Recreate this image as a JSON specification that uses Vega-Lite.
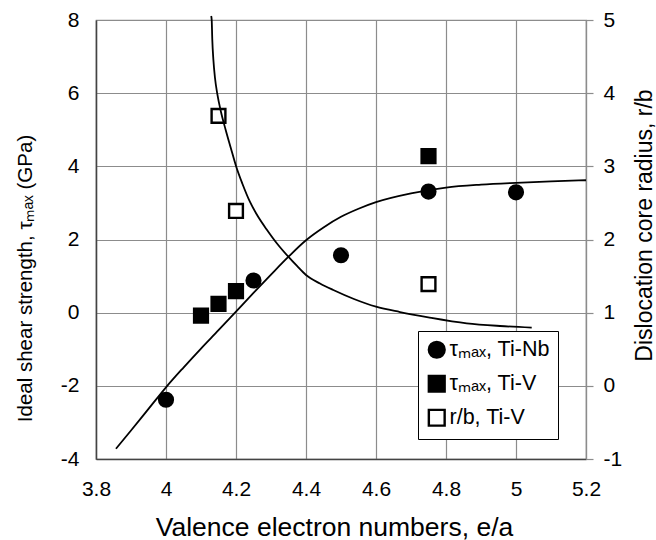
{
  "$schema": "https://vega.github.io/schema/vega-lite/v6.json",
  "width": 490,
  "height": 439,
  "autosize": {"type": "none"},
  "padding": {"left": 96, "top": 20, "right": 70, "bottom": 81},
  "background": "white",
  "config": {
    "font": "Liberation Sans",
    "view": {"stroke": "#8c8c8c", "strokeWidth": 1.2},
    "axis": {
      "labelFont": "Liberation Sans",
      "labelFontSize": 21,
      "labelColor": "black",
      "titleFont": "Liberation Sans",
      "titleFontWeight": "normal",
      "titleColor": "black",
      "gridColor": "#8c8c8c",
      "gridWidth": 1.2,
      "gridOpacity": 1,
      "labelOverlap": false,
      "labelFlush": false
    }
  },
  "datasets": {
    "tauFit": [
      {"ea": 3.857, "tau": -3.72},
      {"ea": 3.9, "tau": -3.22},
      {"ea": 3.95, "tau": -2.63},
      {"ea": 4.0, "tau": -2.04},
      {"ea": 4.05, "tau": -1.5},
      {"ea": 4.1, "tau": -0.98},
      {"ea": 4.15, "tau": -0.48},
      {"ea": 4.2, "tau": 0.03},
      {"ea": 4.25, "tau": 0.54},
      {"ea": 4.3, "tau": 1.04},
      {"ea": 4.35, "tau": 1.53},
      {"ea": 4.4, "tau": 1.98},
      {"ea": 4.45, "tau": 2.33},
      {"ea": 4.5, "tau": 2.62},
      {"ea": 4.55, "tau": 2.84},
      {"ea": 4.6, "tau": 3.02},
      {"ea": 4.7, "tau": 3.26},
      {"ea": 4.8, "tau": 3.42},
      {"ea": 4.9, "tau": 3.5},
      {"ea": 5.0, "tau": 3.55},
      {"ea": 5.1, "tau": 3.59},
      {"ea": 5.2, "tau": 3.62}
    ],
    "tauPts": [
      {"ea": 4.0, "tau": -2.38, "series": "τₘₐₓ, Ti-Nb"},
      {"ea": 4.25, "tau": 0.88, "series": "τₘₐₓ, Ti-Nb"},
      {"ea": 4.5, "tau": 1.57, "series": "τₘₐₓ, Ti-Nb"},
      {"ea": 4.75, "tau": 3.31, "series": "τₘₐₓ, Ti-Nb"},
      {"ea": 5.0, "tau": 3.29, "series": "τₘₐₓ, Ti-Nb"},
      {"ea": 4.1, "tau": -0.08, "series": "τₘₐₓ, Ti-V"},
      {"ea": 4.15, "tau": 0.24, "series": "τₘₐₓ, Ti-V"},
      {"ea": 4.2, "tau": 0.59, "series": "τₘₐₓ, Ti-V"},
      {"ea": 4.75, "tau": 4.28, "series": "τₘₐₓ, Ti-V"}
    ],
    "rbFit": [
      {"ea": 4.12914, "rb": 5.055},
      {"ea": 4.13057, "rb": 5.0},
      {"ea": 4.13229, "rb": 4.727},
      {"ea": 4.13543, "rb": 4.453},
      {"ea": 4.14, "rb": 4.207},
      {"ea": 4.14657, "rb": 3.989},
      {"ea": 4.15714, "rb": 3.743},
      {"ea": 4.17057, "rb": 3.497},
      {"ea": 4.18514, "rb": 3.251},
      {"ea": 4.2, "rb": 3.005},
      {"ea": 4.21857, "rb": 2.759},
      {"ea": 4.24, "rb": 2.513},
      {"ea": 4.26286, "rb": 2.314},
      {"ea": 4.28771, "rb": 2.137},
      {"ea": 4.31714, "rb": 1.945},
      {"ea": 4.34943, "rb": 1.765},
      {"ea": 4.37429, "rb": 1.638},
      {"ea": 4.4, "rb": 1.515},
      {"ea": 4.44, "rb": 1.399},
      {"ea": 4.478, "rb": 1.31},
      {"ea": 4.537, "rb": 1.187},
      {"ea": 4.6, "rb": 1.082},
      {"ea": 4.6686, "rb": 1.009},
      {"ea": 4.7494, "rb": 0.937},
      {"ea": 4.8591, "rb": 0.855},
      {"ea": 4.9543, "rb": 0.818},
      {"ea": 5.0449, "rb": 0.795}
    ],
    "rbPts": [
      {"ea": 4.15, "rb": 3.69, "series": "r/b, Ti-V"},
      {"ea": 4.2, "rb": 2.39, "series": "r/b, Ti-V"},
      {"ea": 4.75, "rb": 1.39, "series": "r/b, Ti-V"}
    ]
  },
  "layer": [
    {
      "layer": [
        {
          "data": {"name": "tauFit"},
          "mark": {"type": "line", "color": "black", "strokeWidth": 1.8, "interpolate": "monotone"},
          "encoding": {
            "x": {
              "field": "ea", "type": "quantitative",
              "scale": {"domain": [3.8, 5.2], "nice": false, "zero": false},
              "axis": {
                "values": [3.8, 4, 4.2, 4.4, 4.6, 4.8, 5, 5.2],
                "labelExpr": "'' + datum.value",
                "tickSize": 0,
                "labelPadding": 19,
                "domainColor": "#444",
                "domainWidth": 1.5,
                "grid": true,
                "title": "Valence electron numbers, e/a",
                "titleFontSize": 26.5,
                "titleX": 238,
                "titleY": 76,
                "titleAlign": "center",
                "titleBaseline": "alphabetic"
              }
            },
            "y": {
              "field": "tau", "type": "quantitative",
              "scale": {"domain": [-4, 8], "nice": false, "zero": false},
              "axis": {
                "orient": "left",
                "values": [-4, -2, 0, 2, 4, 6, 8],
                "labelExpr": "'' + datum.value",
                "tickSize": 0,
                "labelPadding": 17,
                "domainColor": "#444",
                "domainWidth": 1.5,
                "grid": true,
                "title": "Ideal shear strength, τₘₐₓ (GPa)",
                "titleFontSize": 20.5,
                "titleAngle": -90,
                "titleX": -65,
                "titleY": 258,
                "titleAlign": "center",
                "titleBaseline": "alphabetic"
              }
            }
          }
        },
        {
          "data": {"name": "tauPts"},
          "mark": {"type": "point", "filled": true, "opacity": 1, "strokeWidth": 2.4, "size": 190},
          "encoding": {
            "x": {"field": "ea", "type": "quantitative"},
            "y": {"field": "tau", "type": "quantitative"},
            "shape": {
              "field": "series", "type": "nominal",
              "scale": {"domain": ["τₘₐₓ, Ti-Nb", "τₘₐₓ, Ti-V", "r/b, Ti-V"], "range": ["circle", "square", "square"]},
              "legend": {
                "title": null, "orient": "none", "legendX": 322, "legendY": 311,
                "padding": 8, "strokeColor": "black", "fillColor": "white", "cornerRadius": 0,
                "labelFontSize": 21.5, "labelFont": "Liberation Sans", "labelColor": "black",
                "symbolSize": 250, "symbolStrokeWidth": 2.4,
                "rowPadding": 8, "labelOffset": 2, "labelLimit": 300
              }
            },
            "fill": {
              "field": "series", "type": "nominal",
              "scale": {"domain": ["τₘₐₓ, Ti-Nb", "τₘₐₓ, Ti-V", "r/b, Ti-V"], "range": ["black", "black", "white"]},
              "legend": {
                "title": null, "orient": "none", "legendX": 322, "legendY": 311,
                "padding": 8, "strokeColor": "black", "fillColor": "white", "cornerRadius": 0,
                "labelFontSize": 21.5, "labelFont": "Liberation Sans", "labelColor": "black",
                "symbolSize": 250, "symbolStrokeWidth": 2.4,
                "rowPadding": 8, "labelOffset": 2, "labelLimit": 300
              }
            },
            "stroke": {
              "field": "series", "type": "nominal",
              "scale": {"domain": ["τₘₐₓ, Ti-Nb", "τₘₐₓ, Ti-V", "r/b, Ti-V"], "range": ["black", "black", "black"]},
              "legend": {
                "title": null, "orient": "none", "legendX": 322, "legendY": 311,
                "padding": 8, "strokeColor": "black", "fillColor": "white", "cornerRadius": 0,
                "labelFontSize": 21.5, "labelFont": "Liberation Sans", "labelColor": "black",
                "symbolSize": 250, "symbolStrokeWidth": 2.4,
                "rowPadding": 8, "labelOffset": 2, "labelLimit": 300
              }
            }
          }
        }
      ]
    },
    {
      "layer": [
        {
          "data": {"name": "rbPts"},
          "mark": {"type": "point", "filled": true, "opacity": 1, "strokeWidth": 2.4, "size": 190},
          "encoding": {
            "x": {"field": "ea", "type": "quantitative"},
            "y": {
              "field": "rb", "type": "quantitative",
              "scale": {"domain": [-1, 5], "nice": false, "zero": false},
              "axis": {
                "orient": "right",
                "values": [-1, 0, 1, 2, 3, 4, 5],
                "labelExpr": "'' + datum.value",
                "tickSize": 7,
                "tickColor": "#8c8c8c",
                "tickWidth": 1.2,
                "labelPadding": 10,
                "domainColor": "#8c8c8c",
                "domainWidth": 1.2,
                "grid": false,
                "title": "Dislocation core radius, r/b",
                "titleFontSize": 23,
                "titleAngle": -90,
                "titleX": 65,
                "titleY": 205,
                "titleAlign": "center",
                "titleBaseline": "alphabetic"
              }
            },
            "shape": {"field": "series", "type": "nominal"},
            "fill": {"field": "series", "type": "nominal"},
            "stroke": {"field": "series", "type": "nominal"}
          }
        },
        {
          "data": {"name": "rbFit"},
          "mark": {"type": "line", "color": "black", "strokeWidth": 1.8, "interpolate": "monotone"},
          "encoding": {
            "x": {"field": "ea", "type": "quantitative"},
            "y": {"field": "rb", "type": "quantitative"}
          }
        }
      ]
    }
  ],
  "resolve": {"scale": {"y": "independent"}}
}
